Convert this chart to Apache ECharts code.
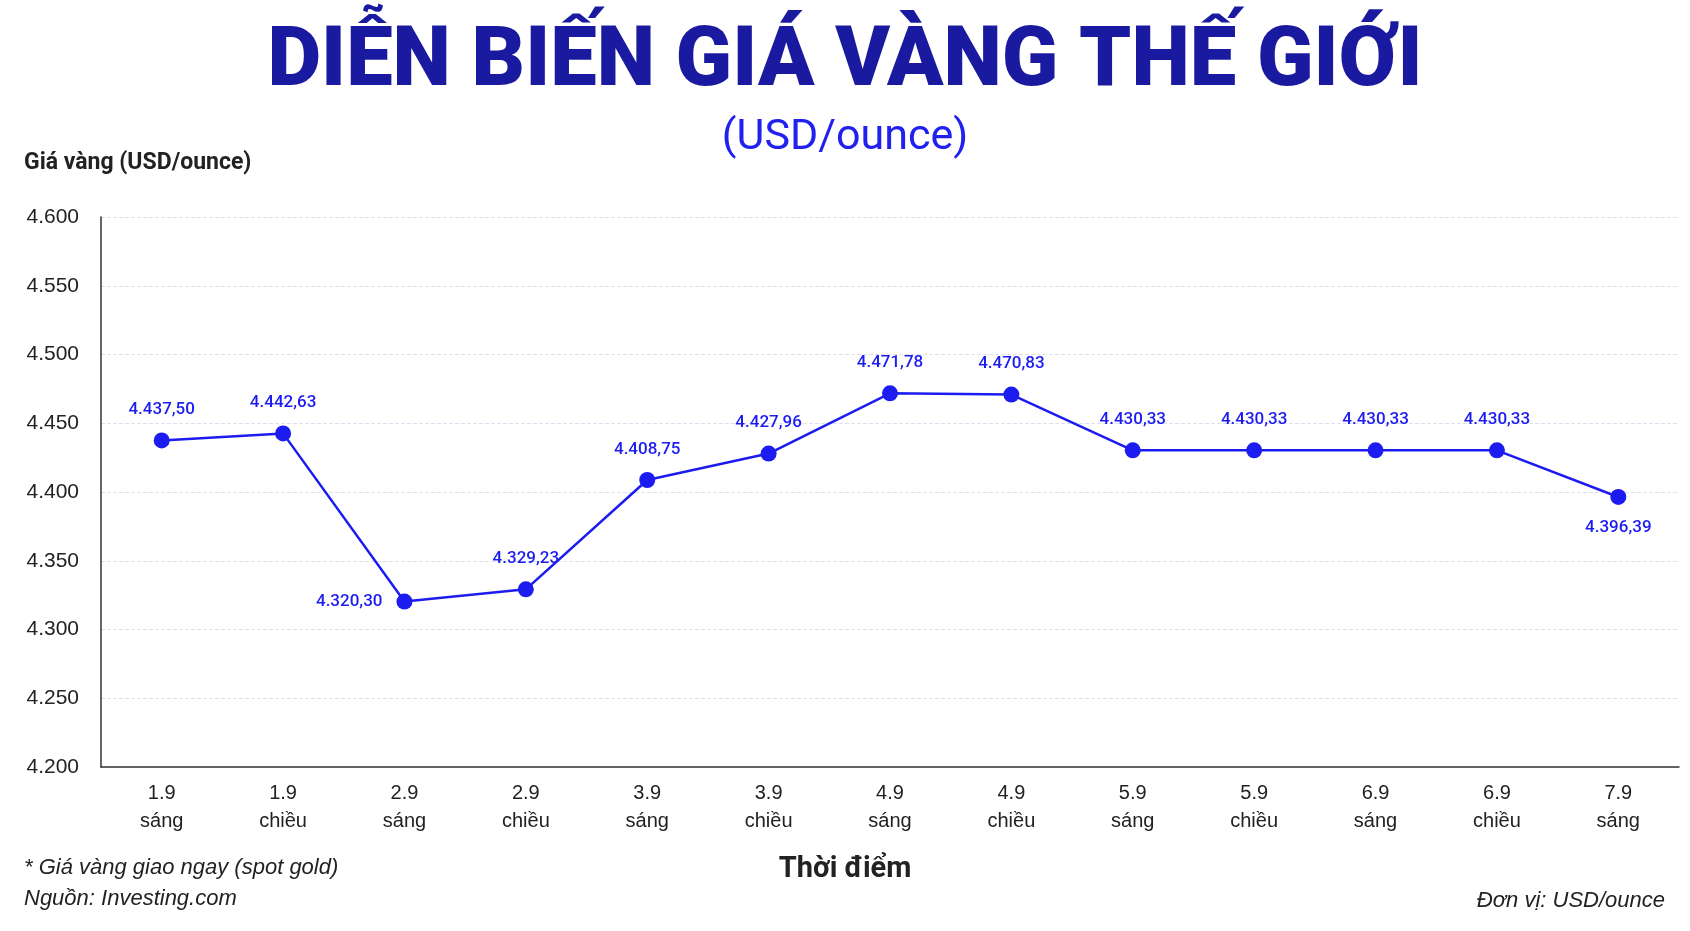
<!DOCTYPE html>
<html>
<head>
<meta charset="utf-8">
<script src="https://cdn.jsdelivr.net/npm/echarts@6/dist/echarts.min.js"></script>
<style>html,body{margin:0;padding:0;background:#fff}#chart{width:1690px;height:931px}</style>
</head>
<body>
<div id="chart"></div>
<script>
var categories = ['1.9\nsáng', '1.9\nchiều', '2.9\nsáng', '2.9\nchiều', '3.9\nsáng', '3.9\nchiều',
  '4.9\nsáng', '4.9\nchiều', '5.9\nsáng', '5.9\nchiều', '6.9\nsáng', '6.9\nchiều', '7.9\nsáng'];
var prices = [4437.50, 4442.63, 4320.30, 4329.23, 4408.75, 4427.96, 4471.78, 4470.83,
  4430.33, 4430.33, 4430.33, 4430.33, 4396.39];
var labelPos = ['top', 'top', 'left', 'top', 'top', 'top', 'top', 'top', 'top', 'top', 'top', 'top', 'bottom'];

var blue = '#1c1cf0';
var fmt = function (v) {
  var s = v.toFixed(2).split('.');
  return s[0].replace(/\B(?=(\d{3})+(?!\d))/g, '.') + ',' + s[1];
};

var chart = echarts.init(document.getElementById('chart'));
var option = {
  textStyle: { fontFamily: 'Liberation Sans, Arial, sans-serif' },
  title: [
    { text: 'DIỄN BIẾN GIÁ VÀNG THẾ GIỚI', left: 'center', top: 18,
      textStyle: { fontSize: 83, fontWeight: 900, color: '#1a1aa0', fontFamily: 'Roboto' } },
    { text: '(USD/ounce)', left: 'center', top: 112,
      textStyle: { fontSize: 43, fontWeight: 'normal', color: '#2020f0', fontFamily: 'Roboto' } }
  ],
  graphic: [
    { type: 'text', left: 24, top: 152, style: { text: 'Giá vàng (USD/ounce)', font: 'bold 23px Roboto', fill: '#222' } },
    { type: 'text', left: 'center', top: 855, style: { text: 'Thời điểm', font: 'bold 29px Roboto', fill: '#222' } },
    { type: 'text', left: 24, top: 857, style: { text: '* Giá vàng giao ngay (spot gold)', font: 'italic 22px "Liberation Sans"', fill: '#222' } },
    { type: 'text', left: 24, top: 888, style: { text: 'Nguồn: Investing.com', font: 'italic 22px "Liberation Sans"', fill: '#222' } },
    { type: 'text', right: 25, top: 890, style: { text: 'Đơn vị: USD/ounce', font: 'italic 22px "Liberation Sans"', fill: '#222' } }
  ],
  grid: { left: 101, right: 11, top: 217, bottom: 164 },
  xAxis: {
    type: 'category',
    data: categories,
    boundaryGap: true,
    axisLine: { lineStyle: { color: '#333', width: 1.5 } },
    axisTick: { show: false },
    axisLabel: { color: '#222', fontSize: 20, lineHeight: 28, margin: 12 }
  },
  yAxis: {
    type: 'value',
    min: 4200, max: 4600, interval: 50,
    axisLine: { show: true, lineStyle: { color: '#333', width: 1.5 } },
    axisTick: { show: false },
    axisLabel: { color: '#222', fontSize: 21, margin: 22, formatter: function (v) { return String(v).replace(/\B(?=(\d{3})+(?!\d))/g, '.'); } },
    splitLine: { lineStyle: { color: '#dde0ee', type: 'dashed' } }
  },
  series: [{
    type: 'line',
    data: prices.map(function (v, i) { return { value: v, label: { position: labelPos[i] } }; }),
    symbol: 'circle',
    symbolSize: 16,
    lineStyle: { color: blue, width: 2.5 },
    itemStyle: { color: blue },
    label: { show: true, color: blue, fontSize: 17, fontWeight: 500, fontFamily: 'Roboto', distance: 14, formatter: function (p) { return fmt(p.value); } }
  }]
};
chart.setOption(option);
</script>
</body>
</html>
